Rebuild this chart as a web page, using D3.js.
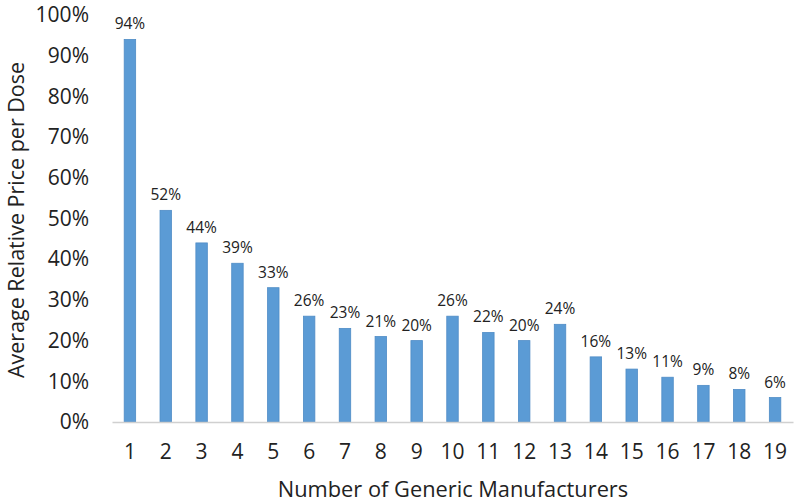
<!DOCTYPE html>
<html><head><meta charset="utf-8">
<script src="https://cdn.jsdelivr.net/npm/d3@7"></script>
<style>body{margin:0;background:#fff}svg{display:block;font-family:"Open Sans",sans-serif}</style>
</head><body><svg id="c" width="800" height="503"></svg>
<script>
const categories = ["1","2","3","4","5","6","7","8","9","10","11","12","13","14","15","16","17","18","19"];
const values = [94,52,44,39,33,26,23,21,20,26,22,20,24,16,13,11,9,8,6];
const yTicks = [0,10,20,30,40,50,60,70,80,90,100];
const FONT = "'Open Sans',sans-serif";

const svg = d3.select("#c");
const x = d3.scaleBand().domain(categories).range([112,793]).paddingInner(0.68).paddingOuter(0.34);
const y = d3.scaleLinear().domain([0,100]).range([422,15]);

// bars
svg.append("g").selectAll("rect").data(values).join("rect")
  .attr("x",(d,i)=>x(categories[i])).attr("width",x.bandwidth())
  .attr("y",d=>y(d)).attr("height",d=>y(0)-y(d))
  .attr("fill","#5b9bd5").attr("stroke","#4f8cc6").attr("stroke-width",0.8);

// data labels
svg.append("g").selectAll("text").data(values).join("text")
  .attr("x",(d,i)=>x(categories[i])+x.bandwidth()/2).attr("y",d=>y(d)-10)
  .attr("text-anchor","middle").attr("font-size",15.5).attr("fill","#222")
  .text(d=>d+"%");

// x axis
const xa = svg.append("g").attr("transform",`translate(0,${y(0)})`)
  .call(d3.axisBottom(x).tickSize(0).tickPadding(22));
xa.select(".domain").attr("stroke","#d0d0d0").attr("stroke-width",1.5);
xa.selectAll("text").attr("font-size",21).attr("fill","#222").attr("font-family",FONT);

// y axis
const ya = svg.append("g").attr("transform","translate(89,0)")
  .call(d3.axisLeft(y).tickValues(yTicks).tickFormat(d=>d+"%").tickSize(0).tickPadding(0));
ya.select(".domain").remove();
ya.selectAll("text").attr("font-size",21).attr("fill","#222").attr("font-family",FONT);

// titles
svg.append("text").attr("x",453).attr("y",497).attr("text-anchor","middle")
  .attr("font-size",21.8).attr("fill","#222").text("Number of Generic Manufacturers");
svg.append("text").attr("transform","translate(24,220) rotate(-90)").attr("text-anchor","middle")
  .attr("font-size",21.5).attr("fill","#222").text("Average Relative Price per Dose");
</script></body></html>
